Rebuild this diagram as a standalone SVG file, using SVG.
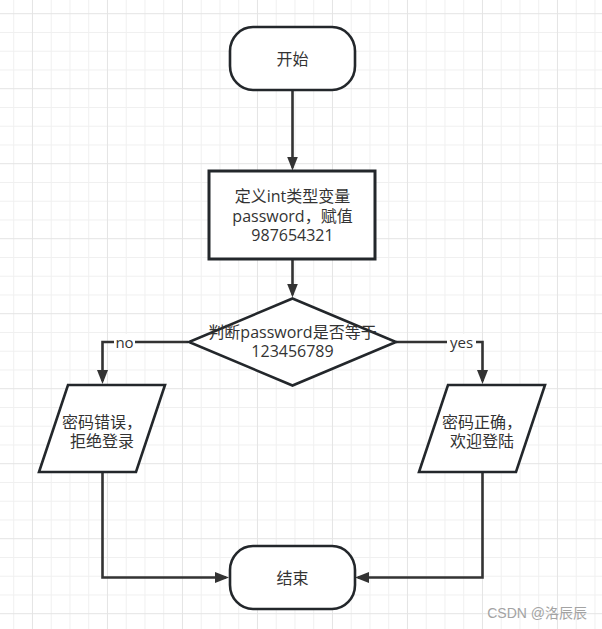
<svg xmlns="http://www.w3.org/2000/svg" width="602" height="629" viewBox="0 0 602 629">
<style>
.grid-minor{stroke:#f0f0f0;stroke-width:1;fill:none}
.grid-major{stroke:#e4e4e4;stroke-width:1;fill:none}
.node{fill:#ffffff;stroke:#23272b;stroke-width:2.6}
.box{stroke-width:3}
.t{font-family:"Open Sans","Noto Sans CJK SC",sans-serif;font-size:16px;fill:#333333;text-anchor:middle;dominant-baseline:central}
.edge{fill:none;stroke:#333333;stroke-width:2.6}
.lbl{font-family:"Open Sans","Noto Sans CJK SC",sans-serif;font-size:15px;fill:#333333;text-anchor:middle;dominant-baseline:central}
.wm{font-family:"Liberation Sans","Noto Sans CJK SC",sans-serif;font-size:14px;fill:#a3a3a3;text-anchor:end}
</style>
<defs>
<marker id="arrow" markerUnits="userSpaceOnUse" markerWidth="14" markerHeight="11" refX="11" refY="5.5" orient="auto">
<path d="M0,0 L14,5.5 L0,11 Z" fill="#333333"/>
</marker>
</defs>
<rect x="0" y="0" width="602" height="629" fill="#ffffff"/>
<g id="grid">
<path class="grid-minor" d="M13.7,0V629M51.2,0V629M69.95,0V629M88.7,0V629M126.2,0V629M144.95,0V629M163.7,0V629M201.2,0V629M219.95,0V629M238.7,0V629M276.2,0V629M294.95,0V629M313.7,0V629M351.2,0V629M369.95,0V629M388.7,0V629M426.2,0V629M444.95,0V629M463.7,0V629M501.2,0V629M519.95,0V629M538.7,0V629M576.2,0V629M594.95,0V629
M0,32.45H602M0,51.2H602M0,69.95H602M0,107.45H602M0,126.2H602M0,144.95H602M0,182.45H602M0,201.2H602M0,219.95H602M0,257.45H602M0,276.2H602M0,294.95H602M0,332.45H602M0,351.2H602M0,369.95H602M0,407.45H602M0,426.2H602M0,444.95H602M0,482.45H602M0,501.2H602M0,519.95H602M0,557.45H602M0,576.2H602M0,594.95H602"/>
<path class="grid-major" d="M32.45,0V629M107.45,0V629M182.45,0V629M257.45,0V629M332.45,0V629M407.45,0V629M482.45,0V629M557.45,0V629
M0,13.7H602M0,88.7H602M0,163.7H602M0,238.7H602M0,313.7H602M0,388.7H602M0,463.7H602M0,538.7H602M0,613.7H602"/>
</g>
<g id="connectors">
<path class="edge" d="M292.5,90 V167.5" marker-end="url(#arrow)"/>
<path class="edge" d="M292.5,259 V294.5" marker-end="url(#arrow)"/>
<path class="edge" d="M188,342 H102.5 V381" marker-end="url(#arrow)"/>
<path class="edge" d="M396,342 H482.5 V381" marker-end="url(#arrow)"/>
<path class="edge" d="M102.5,472 V577.5 H226" marker-end="url(#arrow)"/>
<path class="edge" d="M482.5,472 V577.5 H358" marker-end="url(#arrow)"/>
<rect x="114" y="334" width="21" height="16" fill="#ffffff"/>
<text class="lbl" x="124.5" y="342">no</text>
<rect x="447" y="334" width="29" height="16" fill="#ffffff"/>
<text class="lbl" x="461.5" y="342">yes</text>
</g>
<g id="start">
<rect class="node" x="230" y="27" width="125" height="63" rx="23" ry="24"/>
<text class="t" x="292.5" y="58.5">开始</text>
</g>
<g id="define">
<rect class="node box" x="209" y="171" width="166" height="88"/>
<text class="t" x="292.5" y="196">定义int类型变量</text>
<text class="t" x="292.5" y="215.5">password，赋值</text>
<text class="t" x="292.5" y="235">987654321</text>
</g>
<g id="decision">
<path class="node" d="M292.5,298.5 L396,342 L292.5,385.5 L189,342 Z"/>
<text class="t" x="292.5" y="331.5">判断password是否等于</text>
<text class="t" x="292.5" y="350.5">123456789</text>
</g>
<g id="wrong">
<path class="node" d="M68,385 L165,385 L136,472 L39,472 Z"/>
<text class="t" x="102" y="421.5">密码错误，</text>
<text class="t" x="102" y="441">拒绝登录</text>
</g>
<g id="right">
<path class="node" d="M448,385 L545,385 L516,472 L419,472 Z"/>
<text class="t" x="482" y="421.5">密码正确，</text>
<text class="t" x="482" y="441">欢迎登陆</text>
</g>
<g id="end">
<rect class="node" x="230" y="546" width="125" height="63" rx="23" ry="24"/>
<text class="t" x="292.5" y="577.5">结束</text>
</g>
<text class="wm" x="587" y="618">CSDN @洛辰辰</text>
</svg>
